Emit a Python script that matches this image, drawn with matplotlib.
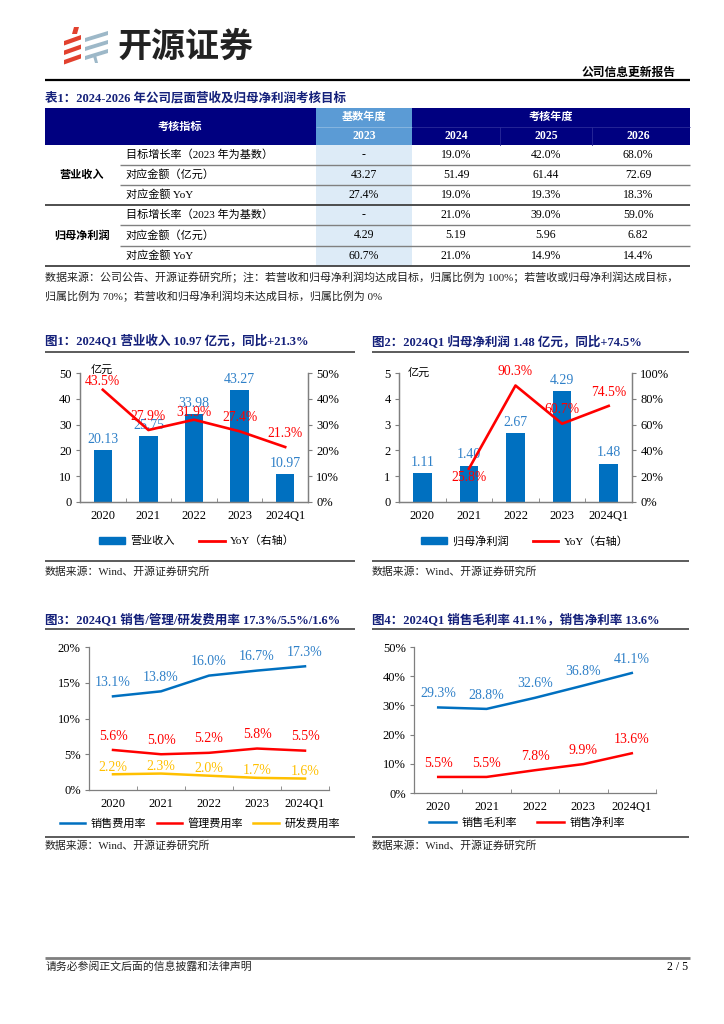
import numpy as np
import matplotlib
matplotlib.use('Agg')
import matplotlib.pyplot as plt
from matplotlib.patches import Rectangle, Polygon
from matplotlib.lines import Line2D
from matplotlib.ticker import FuncFormatter, MultipleLocator, FixedLocator

SERIF = ['Liberation Serif', 'Noto Sans CJK SC']
plt.rcParams['font.family'] = SERIF
plt.rcParams['axes.unicode_minus'] = False

# ---------------- data ----------------
table_years = ['2023', '2024', '2025', '2026']
row_labels = ['目标增长率（2023 年为基数）', '对应金额（亿元）', '对应金额 YoY']
group_labels = ['营业收入', '归母净利润']
rev_growth = ['-', '19.0%', '42.0%', '68.0%']
rev_amount = ['43.27', '51.49', '61.44', '72.69']
rev_yoy = ['27.4%', '19.0%', '19.3%', '18.3%']
np_growth = ['-', '21.0%', '39.0%', '59.0%']
np_amount = ['4.29', '5.19', '5.96', '6.82']
np_yoy = ['60.7%', '21.0%', '14.9%', '14.4%']

years = ['2020', '2021', '2022', '2023', '2024Q1']
revenue = [20.13, 25.75, 33.98, 43.27, 10.97]
revenue_yoy = [43.5, 27.9, 31.9, 27.4, 21.3]
net_profit = [1.11, 1.40, 2.67, 4.29, 1.48]
net_profit_yoy = [np.nan, 25.8, 90.3, 60.7, 74.5]
selling_rate = [13.1, 13.8, 16.0, 16.7, 17.3]
admin_rate = [5.6, 5.0, 5.2, 5.8, 5.5]
rd_rate = [2.2, 2.3, 2.0, 1.7, 1.6]
gross_margin = [29.3, 28.8, 32.6, 36.8, 41.1]
net_margin = [5.5, 5.5, 7.8, 9.9, 13.6]

# ---------------- styles ----------------
NAVY = '#000080'
TITLE_C = '#14207A'
BLUE = '#0070C0'
LBLUE = '#2F80C8'
RED = '#FF0000'
YEL = '#FFC000'
SPINE = '#7F7F7F'

W, H = 724, 1024
fig = plt.figure(figsize=(W / 100, H / 100), dpi=100)
bg = fig.add_axes([0, 0, 1, 1])
bg.set_xlim(0, W)
bg.set_ylim(H, 0)
bg.axis('off')


def rect(x0, y0, x1, y1):
    return [x0 / W, 1 - y1 / H, (x1 - x0) / W, (y1 - y0) / H]


def T(x, y, s, size=8, weight='normal', color='black', ha='left', va='center', family=SERIF):
    bg.text(x, y, s, fontsize=size, fontweight=weight, color=color, ha=ha, va=va, family=family)


def hline(x0, x1, y, color='black', lw=1.0):
    bg.plot([x0, x1], [y, y], color=color, lw=lw, solid_capstyle='butt')


# ---------------- header ----------------
red_c = '#E2412E'
gb_c = '#9DB8C8'
for i in range(3):
    y0 = 35 + i * 9.5
    bg.add_patch(Polygon([[64, y0 + 6], [81, y0], [81, y0 + 4.5], [64, y0 + 10.5]], closed=True, color=red_c, lw=0))
bg.add_patch(Polygon([[74, 27], [79, 27], [77, 34], [72, 34]], closed=True, color=red_c, lw=0))
for i in range(3):
    y0 = 31 + i * 9
    bg.add_patch(Polygon([[85, y0 + 7], [108, y0], [108, y0 + 4], [85, y0 + 11]], closed=True, color=gb_c, lw=0))
bg.add_patch(Polygon([[93, 56], [96, 55], [98, 63], [95, 63]], closed=True, color=gb_c, lw=0))
T(117, 46, '开源证券', size=24.5, weight='bold', color='#222222', family=['Noto Sans CJK SC'])
T(676, 73, '公司信息更新报告', size=8.5, weight='bold', ha='right')
hline(45, 690, 80, 'black', 1.6)

# ---------------- table ----------------
T(45, 98, '表1：2024-2026 年公司层面营收及归母净利润考核目标', size=9, weight='bold', color=TITLE_C)
tx0, tx1 = 45, 690
c23 = (316, 412)
col_x = [364, 456, 546, 638]
bg.add_patch(Rectangle((tx0, 108), tx1 - tx0, 37, color=NAVY, lw=0))
bg.add_patch(Rectangle((c23[0], 108), c23[1] - c23[0], 37, color='#5B9BD5', lw=0))
bg.add_patch(Rectangle((c23[0], 145), c23[1] - c23[0], 121, color='#DDEBF7', lw=0))
hline(c23[0], c23[1], 126.5, '#8DB9E2', 0.6)
hline(c23[1], tx1, 126.5, '#2A2A9A', 0.6)
for xv in [500, 592]:
    bg.plot([xv, xv], [127, 145], color='#2A2A9A', lw=0.6)
T(180, 126.5, '考核指标', size=8, weight='bold', color='white', ha='center')
T(364, 117, '基数年度', size=8, weight='bold', color='white', ha='center')
T(551, 117, '考核年度', size=8, weight='bold', color='white', ha='center')
for xc, yr in zip(col_x, table_years):
    T(xc, 136, yr, size=8.5, weight='bold', color='white', ha='center')

row_y = [155, 174.5, 194.5, 215, 235.5, 256]
groups = [[rev_growth, rev_amount, rev_yoy], [np_growth, np_amount, np_yoy]]
for g, rows in enumerate(groups):
    for r, vals in enumerate(rows):
        y = row_y[g * 3 + r]
        T(126, y, row_labels[r], size=8)
        for xc, v in zip(col_x, vals):
            T(xc, y, v, size=8.5, ha='center')
    T(82, row_y[g * 3 + 1], group_labels[g], size=8, weight='bold', ha='center')
for y in [164.5, 184.5, 225, 245.5]:
    hline(120, tx1, y, '#808080', 1.0)
hline(tx0, tx1, 205, '#404040', 1.3)
hline(tx0, tx1, 266, '#404040', 1.3)
T(45, 277, '数据来源：公司公告、开源证券研究所；注：若营收和归母净利润均达成目标，归属比例为 100%；若营收或归母净利润达成目标，',
  size=7.9, color='#222222')
T(45, 296, '归属比例为 70%；若营收和归母净利润均未达成目标，归属比例为 0%', size=7.9, color='#222222')

# ---------------- section titles / lines ----------------
T(45, 342, '图1：2024Q1 营业收入 10.97 亿元，同比+21.3%', size=9, weight='bold', color=TITLE_C)
T(372, 342, '图2：2024Q1 归母净利润 1.48 亿元，同比+74.5%', size=9, weight='bold', color=TITLE_C)
T(45, 620, '图3：2024Q1 销售/管理/研发费用率 17.3%/5.5%/1.6%', size=9, weight='bold', color=TITLE_C)
T(372, 620, '图4：2024Q1 销售毛利率 41.1%，销售净利率 13.6%', size=9, weight='bold', color=TITLE_C)
for y in [352, 561, 629, 837]:
    hline(45, 355, y, '#404040', 1.2)
    hline(372, 689, y, '#404040', 1.2)
for x, y in [(45, 572), (372, 572), (45, 846), (372, 846)]:
    T(x, y, '数据来源：Wind、开源证券研究所', size=7.8, color='#222222')

# footer
hline(45, 690, 958, '#7F7F7F', 2.0)
T(46, 967, '请务必参阅正文后面的信息披露和法律声明', size=7.8, color='#222222')
T(688, 967, '2 / 5', size=8.5, ha='right')

x = np.arange(len(years))
pct = FuncFormatter(lambda v, p: f'{v:.0f}%')


def style_axis(ax, right=False):
    ax.spines['top'].set_visible(False)
    for s in ['left', 'bottom', 'right']:
        ax.spines[s].set_color(SPINE)
        ax.spines[s].set_linewidth(0.9)
    if not right:
        ax.spines['right'].set_visible(False)
    ax.tick_params(axis='both', direction='out', length=3, width=0.8, color=SPINE, labelsize=9, pad=3)
    ax.set_xlim(-0.5, len(years) - 0.5)
    ax.set_xticks(x)
    ax.set_xticklabels(years)
    ax.tick_params(axis='x', length=0, pad=6)
    ax.xaxis.set_minor_locator(FixedLocator(np.arange(-0.5, len(years), 1.0)))
    ax.tick_params(axis='x', which='minor', direction='in', length=3, color=SPINE)
    ax.set_facecolor('none')


def twin_style(b):
    b.spines['top'].set_visible(False)
    for s in ['left', 'bottom', 'right']:
        b.spines[s].set_color(SPINE)
        b.spines[s].set_linewidth(0.9)
    b.tick_params(axis='y', direction='out', length=3, width=0.8, color=SPINE, labelsize=9, pad=3)


# ---------------- chart 1 ----------------
a1 = fig.add_axes(rect(80, 373, 308, 502))
a1.bar(x, revenue, width=0.4, color=BLUE, zorder=2)
a1.set_ylim(0, 50)
a1.yaxis.set_major_locator(MultipleLocator(10))
style_axis(a1, right=True)
for xi, v in zip(x, revenue):
    a1.annotate(f'{v:.2f}', (xi, v), xytext=(0, 7.5), textcoords='offset points', ha='center', va='center',
                fontsize=10, color=LBLUE)
b1 = a1.twinx()
b1.plot(x, revenue_yoy, color=RED, lw=1.9, zorder=3)
b1.set_ylim(0, 50)
b1.yaxis.set_major_locator(MultipleLocator(10))
b1.yaxis.set_major_formatter(pct)
twin_style(b1)
rev_off = [6, 10, 5, 10, 10]
for xi, v, off in zip(x, revenue_yoy, rev_off):
    b1.annotate(f'{v:.1f}%', (xi, v), xytext=(0, off), textcoords='offset points', ha='center', va='center',
                fontsize=9.8, color=RED)
T(102, 370, '亿元', size=8, ha='center')
fig.legend(handles=[Rectangle((0, 0), 1, 1, color=BLUE), Line2D([], [], color=RED, lw=2)],
           labels=['营业收入', 'YoY（右轴）'], loc='center', bbox_to_anchor=(197 / W, 1 - 541 / H), ncol=2,
           frameon=False, fontsize=8, handlelength=2.3, handleheight=0.6, columnspacing=2.2, handletextpad=0.5)

# ---------------- chart 2 ----------------
a2 = fig.add_axes(rect(399, 373, 632, 502))
a2.bar(x, net_profit, width=0.4, color=BLUE, zorder=2)
a2.set_ylim(0, 5)
a2.yaxis.set_major_locator(MultipleLocator(1))
style_axis(a2, right=True)
for xi, v in zip(x, net_profit):
    a2.annotate(f'{v:.2f}', (xi, v), xytext=(0, 8), textcoords='offset points', ha='center', va='center',
                fontsize=10, color=LBLUE)
b2 = a2.twinx()
b2.plot(x, net_profit_yoy, color=RED, lw=1.9, zorder=3)
b2.set_ylim(0, 100)
b2.yaxis.set_major_locator(MultipleLocator(20))
b2.yaxis.set_major_formatter(pct)
twin_style(b2)
np_offsets = [0, -6, 10, 10, 10]
for xi, v, off in zip(x, net_profit_yoy, np_offsets):
    if np.isnan(v):
        continue
    b2.annotate(f'{v:.1f}%', (xi, v), xytext=(0, off), textcoords='offset points', ha='center',
                va='center', fontsize=9.8, color=RED)
T(419, 373, '亿元', size=8, ha='center')
fig.legend(handles=[Rectangle((0, 0), 1, 1, color=BLUE), Line2D([], [], color=RED, lw=2)],
           labels=['归母净利润', 'YoY（右轴）'], loc='center', bbox_to_anchor=(525 / W, 1 - 541 / H), ncol=2,
           frameon=False, fontsize=8, handlelength=2.3, handleheight=0.6, columnspacing=2.2, handletextpad=0.5)

# ---------------- chart 3 ----------------
a3 = fig.add_axes(rect(89, 647, 329, 790))
series3 = [(selling_rate, BLUE, LBLUE, '销售费用率'), (admin_rate, RED, RED, '管理费用率'),
           (rd_rate, YEL, YEL, '研发费用率')]
offs3 = [10, 10, 5]
handles3 = []
for (vals, c, lc, name), off in zip(series3, offs3):
    ln, = a3.plot(x, vals, color=c, lw=1.8)
    handles3.append(ln)
    for xi, v in zip(x, vals):
        a3.annotate(f'{v:.1f}%', (xi, v), xytext=(0, off), textcoords='offset points', ha='center', va='center',
                    fontsize=10, color=lc)
a3.set_ylim(0, 20)
a3.yaxis.set_major_locator(MultipleLocator(5))
a3.yaxis.set_major_formatter(pct)
style_axis(a3)
fig.legend(handles=handles3, labels=[s[3] for s in series3], loc='center', bbox_to_anchor=(200 / W, 1 - 823 / H),
           ncol=3, frameon=False, fontsize=8, handlelength=2.3, columnspacing=0.9, handletextpad=0.5)

# ---------------- chart 4 ----------------
a4 = fig.add_axes(rect(414, 647, 656, 793))
series4 = [(gross_margin, BLUE, LBLUE, '销售毛利率'), (net_margin, RED, RED, '销售净利率')]
handles4 = []
for vals, c, lc, name in series4:
    ln, = a4.plot(x, vals, color=c, lw=1.8)
    handles4.append(ln)
    for xi, v in zip(x, vals):
        a4.annotate(f'{v:.1f}%', (xi, v), xytext=(0, 10), textcoords='offset points', ha='center', va='center',
                    fontsize=10, color=lc)
a4.set_ylim(0, 50)
a4.yaxis.set_major_locator(MultipleLocator(10))
a4.yaxis.set_major_formatter(pct)
style_axis(a4)
fig.legend(handles=handles4, labels=[s[3] for s in series4], loc='center', bbox_to_anchor=(527 / W, 1 - 823 / H),
           ncol=2, frameon=False, fontsize=8, handlelength=2.4, columnspacing=1.8, handletextpad=0.5)

fig.savefig('out.png', dpi=100)
